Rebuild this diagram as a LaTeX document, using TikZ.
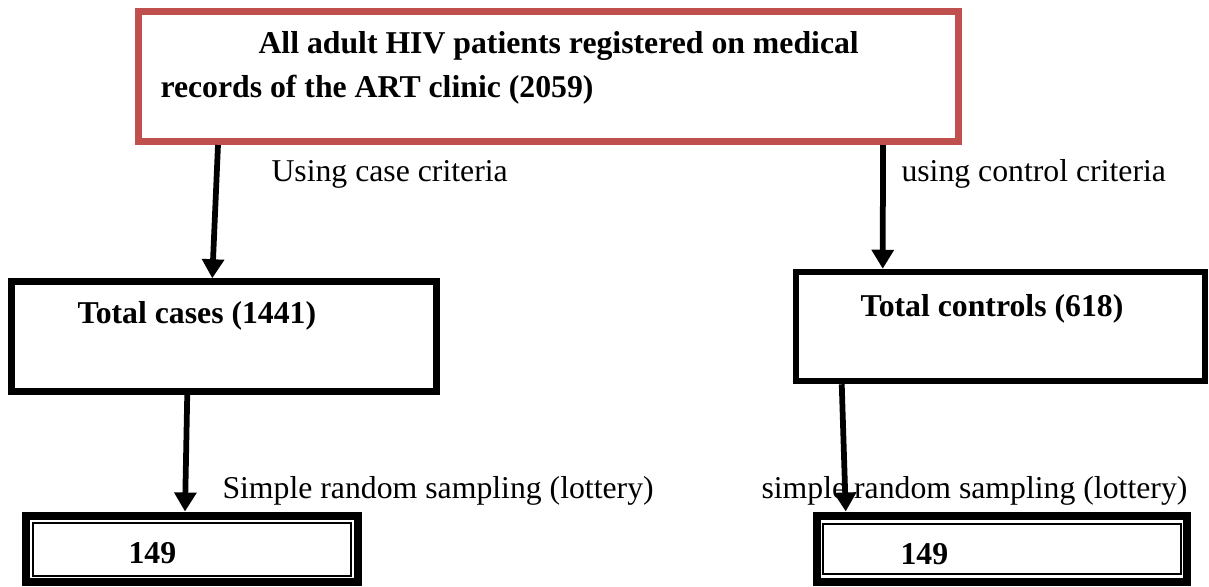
\documentclass[tikz,border=0pt]{standalone}
\usepackage{fontspec}
\setmainfont{Liberation Serif}
\usetikzlibrary{arrows.meta,calc}
\definecolor{FCRed}{HTML}{C0504D}
\definecolor{FCInk}{HTML}{000000}
\tikzset{
  flow/.style={-{Triangle[length=7.6pt,width=8.6pt]},FCInk,line width=2.3pt},
  box/.style={draw=FCInk,line width=2.6pt,fill=white,inner sep=0pt},
  boxred/.style={box,draw=FCRed,line width=2.8pt},
  boxthick/.style={box,line width=3.2pt},
  boxthin/.style={draw=FCInk,line width=0.8pt,inner sep=0pt},
  head/.style={text=FCInk,font=\fontsize{12.7}{15}\selectfont\bfseries,anchor=base west,inner sep=0pt},
  note/.style={text=FCInk,font=\fontsize{12.7}{15}\selectfont,anchor=base west,inner sep=0pt},
}
\begin{document}
\begin{tikzpicture}[x=.4pt,y=-.4pt]
  \useasboundingbox (0,0) rectangle (1209,587);
    \node[boxred,minimum width=328pt,minimum height=52pt] (all) at (548.5,76.5) {};
    \node[head] (allA) at (258,53) {All adult HIV patients registered on medical};
    \node[head] (allB) at (160,97) {records of the ART clinic (2059)};

    \node[box,minimum width=170pt,minimum height=44pt] (cases) at (224,336.5) {};
    \node[head] (casesT) at (77,323) {Total cases (1441)};
    \node[box,minimum width=163.6pt,minimum height=43.6pt] (ctrls) at (1000.5,326.5) {};
    \node[head] (ctrlsT) at (860,316) {Total controls (618)};

    \node[boxthick,minimum width=132.8pt,minimum height=26.6pt] (sampL) at (192,548.75) {};
    \node[boxthin,minimum width=126.8pt,minimum height=21.2pt] (sampLin) at (192,549) {};
    \node[head] (sampLT) at (128,563) {149};
    \node[boxthick,minimum width=148.2pt,minimum height=26.6pt] (sampR) at (1002,548.75) {};
    \node[boxthin,minimum width=143pt,minimum height=20pt] (sampRin) at (1002,549) {};
    \node[head] (sampRT) at (900,564) {149};

    \node[note] (caseC) at (271,181) {Using case criteria};
    \node[note] (ctrlC) at (901,181) {using control criteria};
    \node[note] (lotL) at (222,498) {Simple random sampling (lottery)};
    \node[note] (lotR) at (761,498) {simple random sampling (lottery)};

    \draw[flow] ($(all.south west)+(83,0)$)--($(cases.north west)+(204,0)$);
    \draw[flow] ($(all.south west)+(748,0)$)--($(ctrls.north west)+(90,0)$);
    \draw[flow] ($(cases.south west)+(179,0)$)--($(sampL.north west)+(163,0)$);
    \draw[flow] ($(ctrls.south west)+(49,0)$)--($(sampR.north west)+(33,0)$);
  \end{tikzpicture}
\end{document}
